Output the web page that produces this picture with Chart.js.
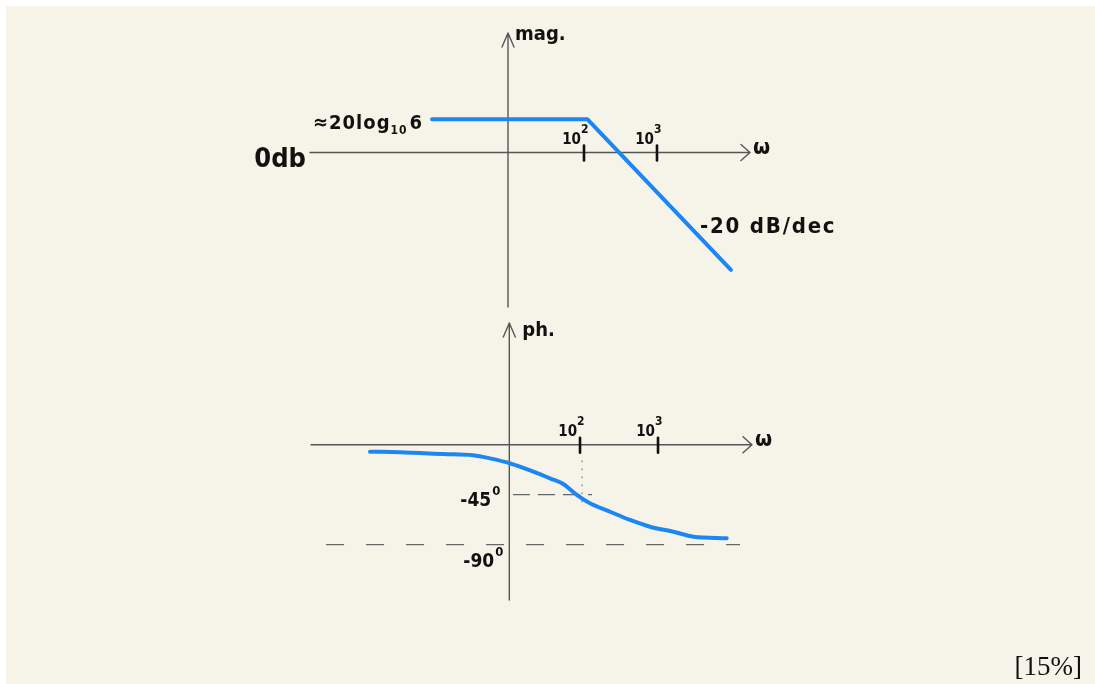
<!DOCTYPE html>
<html>
<head>
<meta charset="utf-8">
<title>Bode sketch</title>
<script src="https://cdn.jsdelivr.net/npm/chart.js@4.4.0/dist/chart.umd.min.js"></script>
<style>
  html, body { margin: 0; padding: 0; background: #fff; }
  #sheet { position: absolute; left: 6px; top: 6px; width: 1089px; height: 678px; background: #f6f4e8; }
  canvas { position: absolute; left: 0; top: 0; }
</style>
</head>
<body>
<div id="sheet"></div>
<canvas id="mag" width="1095" height="684"></canvas>
<canvas id="phase" width="1095" height="684"></canvas>
<script>
// --- magnitude asymptote (dB) ---
const magW  = [0.83, 112, 10300];
const magDb = [15.56, 15.56, -55];          // flat part ≈ 20·log10(6)

// --- phase curve (deg) ---
const phW   = [0.203, 0.492, 1.77, 4.25, 7.01, 12.7, 25.2, 41.2, 61.1, 90.8, 134, 243, 438, 789, 1570, 2840, 7600];
const phDeg = [-6.3, -6.8, -8.4, -9.5, -12.3, -16.8, -24.3, -30.3, -35.4, -45.3, -52.8, -60.4, -67.8, -73.9, -78.4, -82.9, -84.3];

// dashed reference levels and where they start / stop
const refDeg  = [-45, -90];
const refFrom = [13.8, 0.0555];
const refTo   = [142.5, 11250];
// dotted guide down from the 10^2 tick
const guideW   = [106, 106];
const guideDeg = [-14, -53];

// axis ticks
const decadeTicks = [100, 1000];
const decadePow   = ['2', '3'];

const blue = '#1c86f2';
const ink = '#111';
const axisCol = '#555';
const hand = (s) => `bold ${s}px 'DejaVu Sans Condensed', 'DejaVu Sans', sans-serif`;

const pts = (xs, ys) => xs.map((v, i) => ({ x: v, y: ys[i] }));

function drawText(ctx, txt, x, y, size, align) {
    ctx.font = hand(size);
    ctx.textAlign = align || 'left';
    ctx.fillText(txt, x, y);
    return ctx.measureText(txt).width;
}

// hand-drawn style axes with arrows + decade ticks, labels via callback
function sketchPlugin(opt) {
    return {
        id: 'sketch',
        beforeDatasetsDraw(chart) {
            const { ctx, chartArea: a, scales: { x, y } } = chart;
            const x0 = x.getPixelForValue(opt.crossW);
            const y0 = y.getPixelForValue(0);
            ctx.save();
            ctx.strokeStyle = axisCol;
            ctx.lineWidth = 1.4;
            ctx.lineCap = 'round';
            ctx.lineJoin = 'round';
            ctx.beginPath();
            ctx.moveTo(a.left, y0); ctx.lineTo(a.right, y0);
            ctx.moveTo(a.right - 9, y0 - 8); ctx.lineTo(a.right, y0); ctx.lineTo(a.right - 9, y0 + 8);
            ctx.moveTo(x0, a.bottom); ctx.lineTo(x0, a.top);
            ctx.moveTo(x0 - 6, a.top + 14); ctx.lineTo(x0, a.top); ctx.lineTo(x0 + 6, a.top + 14);
            ctx.stroke();

            ctx.strokeStyle = ink;
            ctx.lineWidth = 2.6;
            decadeTicks.forEach(w => {
                const px = x.getPixelForValue(w);
                ctx.beginPath();
                ctx.moveTo(px, y0 - 7);
                ctx.lineTo(px, y0 + 8);
                ctx.stroke();
            });
            ctx.restore();
        },
        afterDraw(chart) {
            const { ctx, chartArea: a, scales: { x, y } } = chart;
            const x0 = x.getPixelForValue(opt.crossW);
            const y0 = y.getPixelForValue(0);
            ctx.save();
            ctx.fillStyle = ink;
            ctx.textBaseline = 'alphabetic';
            decadeTicks.forEach((w, i) => {
                const px = x.getPixelForValue(w);
                drawText(ctx, '10', px - 3, y0 - 9, 15, 'right');
                drawText(ctx, decadePow[i], px - 3, y0 - 20, 12, 'left');
            });
            drawText(ctx, 'ω', a.right + 3, y0 + 1, 22, 'left');
            opt.labels(ctx, a, x, y, x0, y0);
            ctx.restore();
        }
    };
}

function baseOptions(pad, xr, yr) {
    return {
        responsive: false,
        animation: false,
        events: [],
        layout: { padding: pad },
        plugins: { legend: { display: false }, tooltip: { enabled: false } },
        scales: {
            x: { type: 'logarithmic', min: xr[0], max: xr[1], display: false },
            y: { type: 'linear', min: yr[0], max: yr[1], display: false }
        }
    };
}

// Magnitude plot
new Chart(document.getElementById('mag'), {
    type: 'scatter',
    data: {
        datasets: [{
            data: pts(magW, magDb),
            showLine: true,
            borderColor: blue,
            borderWidth: 4,
            pointRadius: 0,
            borderCapStyle: 'round',
            borderJoinStyle: 'round'
        }]
    },
    options: baseOptions({ left: 310, right: 345, top: 33, bottom: 377 }, [0.01766, 18793], [-72.4, 56.0]),
    plugins: [sketchPlugin({
        crossW: 9.1,
        labels(ctx, a, x, y, x0, y0) {
            drawText(ctx, 'mag.', x0 + 7, a.top + 7, 20);
            drawText(ctx, '0db', a.left - 4, y0 + 14, 27, 'right');
            // ≈20 log10 6 next to the flat part
            const fx = x.getPixelForValue(magW[0]) - 8;
            const fy = y.getPixelForValue(magDb[0]) + 10;
            ctx.letterSpacing = '1px';
            ctx.font = hand(20);
            const w6 = ctx.measureText('6').width;
            const wMain = ctx.measureText('≈20log').width;
            ctx.font = hand(12);
            const wSub = ctx.measureText('10').width;
            let cx = fx - w6 - wSub - wMain - 3;
            drawText(ctx, '≈20log', cx, fy, 20);
            cx += wMain;
            drawText(ctx, '10', cx, fy + 5, 12);
            cx += wSub + 2;
            drawText(ctx, '6', cx, fy, 20);
            // slope note
            ctx.letterSpacing = '1.8px';
            const ex = x.getPixelForValue(magW[2]);
            const ey = y.getPixelForValue(magDb[2]);
            drawText(ctx, '-20 dB/dec', ex - 31, ey - 37, 22);
            ctx.letterSpacing = '0px';
        }
    })]
});

// Phase plot
const phaseSets = [{
    data: pts(phW, phDeg),
    showLine: true,
    borderColor: blue,
    borderWidth: 4,
    pointRadius: 0,
    cubicInterpolationMode: 'monotone',
    borderCapStyle: 'round'
}];
refDeg.forEach((d, i) => phaseSets.push({
    data: pts([refFrom[i], refTo[i]], [d, d]),
    showLine: true,
    borderColor: '#666',
    borderWidth: 1.3,
    borderDash: i === 0 ? [17, 8] : [18, 22],
    pointRadius: 0
}));
phaseSets.push({
    data: pts(guideW, guideDeg),
    showLine: true,
    borderColor: '#888',
    borderWidth: 1.2,
    borderDash: [2, 6],
    pointRadius: 0
});

new Chart(document.getElementById('phase'), {
    type: 'scatter',
    data: { datasets: phaseSets },
    options: baseOptions({ left: 311, right: 343, top: 323, bottom: 84 }, [0.03556, 16032], [-139.9, 109.6]),
    plugins: [sketchPlugin({
        crossW: 12.4,
        labels(ctx, a, x, y, x0, y0) {
            drawText(ctx, 'ph.', x0 + 13, a.top + 13, 20);
            refDeg.forEach((d, i) => {
                const py = y.getPixelForValue(d) + (i === 0 ? 11 : 22);
                const right = x0 - (i === 0 ? 9 : 6);
                ctx.font = hand(13);
                const wDeg = ctx.measureText('0').width;
                drawText(ctx, '0', right, py - 11, 13, 'right');
                drawText(ctx, String(d), right - wDeg - 1, py, 19, 'right');
            });
            // scale note in the corner
            ctx.font = "27px 'Liberation Serif', 'DejaVu Serif', serif";
            ctx.textAlign = 'right';
            ctx.fillText('[15%]', 1082, 675);
        }
    })]
});
</script>
</body>
</html>
